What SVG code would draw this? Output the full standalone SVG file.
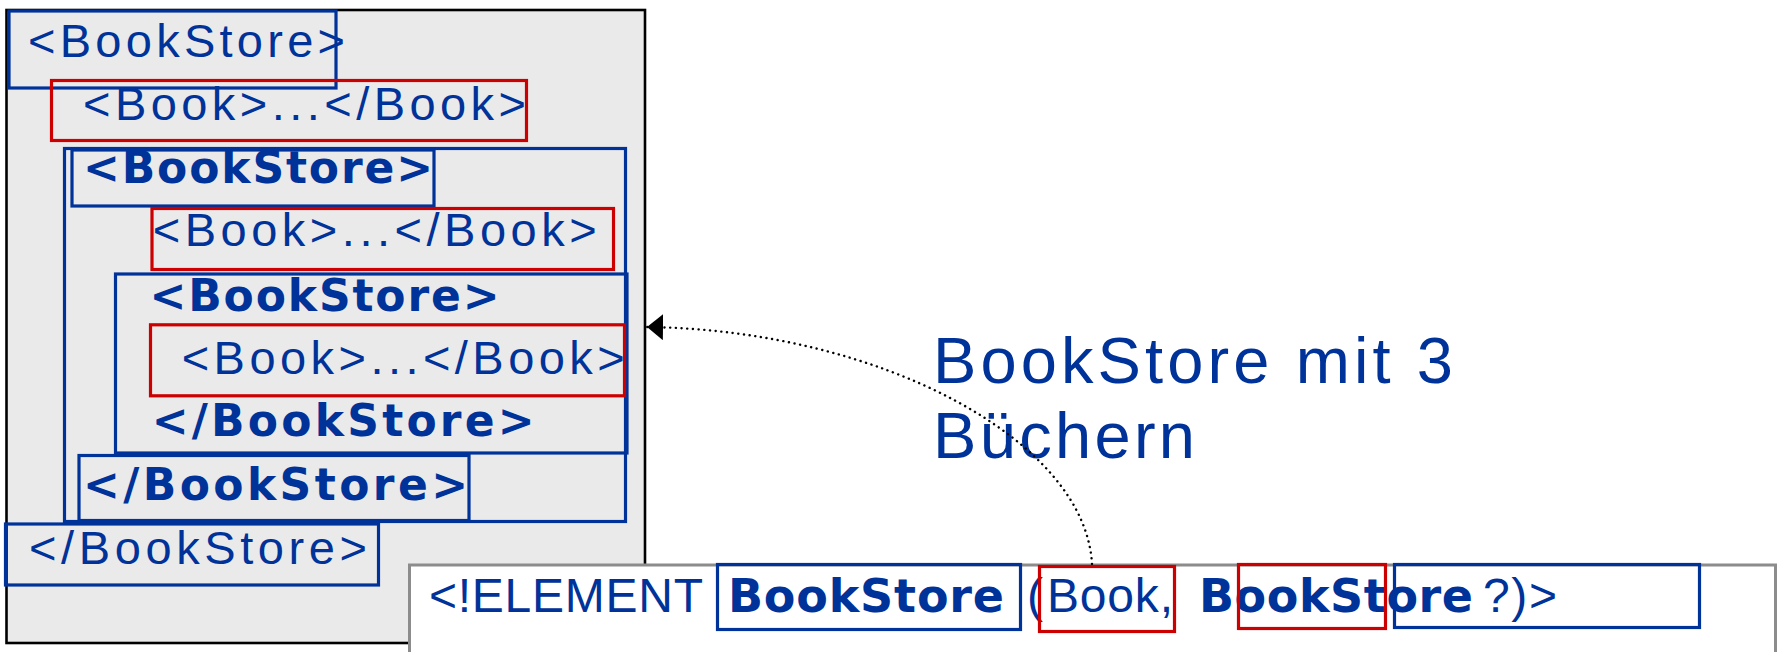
<svg xmlns="http://www.w3.org/2000/svg" width="1783" height="652" viewBox="0 0 1783 652">
<style>
text{font-family:"Liberation Sans",Arial,sans-serif;fill:#003399}
.n{font-size:47px}
.b{font-family:"DejaVu Sans",Verdana,sans-serif;font-size:44px;font-weight:bold}
.d{font-size:48px}
.db{font-family:"DejaVu Sans",Verdana,sans-serif;font-size:46px;font-weight:bold}
.big{font-size:65px}
.bl{fill:none;stroke:#003399;stroke-width:3.2}
.rd{fill:none;stroke:#CC0000;stroke-width:3.2}
.conn{fill:none;stroke:#000;stroke-width:2.4;stroke-dasharray:0.1 5.6;stroke-linecap:round}
</style>
<defs>
<marker id="ah" markerUnits="userSpaceOnUse" markerWidth="16" markerHeight="26" viewBox="0 0 16 26" refX="16" refY="13" orient="auto">
<path d="M0,0 L16,13 L0,26 z" fill="#000"/>
</marker>
</defs>
<g id="outer">
<rect x="6.5" y="10" width="638.5" height="633" fill="#EAEAEA" stroke="#000" stroke-width="2.6"/>
</g>
<g id="bookstore-outer-open">
<text class="n" x="28" y="57" textLength="317" lengthAdjust="spacing">&lt;BookStore&gt;</text>
<rect class="bl" x="9" y="11" width="327" height="77"/>
</g>
<g id="book-1">
<text class="n" x="83" y="120" textLength="443" lengthAdjust="spacing">&lt;Book&gt;...&lt;/Book&gt;</text>
<rect class="rd" x="51.5" y="80.5" width="475" height="60"/>
</g>
<g id="bookstore-mid">
<rect class="bl" x="64.5" y="148.5" width="561" height="373"/>
</g>
<g id="bookstore-mid-open">
<text class="b" x="83" y="183" textLength="350" lengthAdjust="spacing">&lt;BookStore&gt;</text>
<rect class="bl" x="72" y="150" width="362" height="56"/>
</g>
<g id="book-2">
<text class="n" x="152.7" y="246" textLength="444" lengthAdjust="spacing">&lt;Book&gt;...&lt;/Book&gt;</text>
<rect class="rd" x="152" y="208.5" width="461.5" height="61"/>
</g>
<g id="bookstore-inner">
<text class="b" x="149.5" y="310.5" textLength="350" lengthAdjust="spacing">&lt;BookStore&gt;</text>
<text class="b" x="151.7" y="436" textLength="383" lengthAdjust="spacing">&lt;/BookStore&gt;</text>
<rect class="bl" x="115.5" y="274" width="511.5" height="179"/>
</g>
<g id="book-3">
<text class="n" x="181.7" y="373.5" textLength="443" lengthAdjust="spacing">&lt;Book&gt;...&lt;/Book&gt;</text>
<rect class="rd" x="150.5" y="324.8" width="474" height="71"/>
</g>
<g id="bookstore-mid-close">
<text class="b" x="83" y="500" textLength="385" lengthAdjust="spacing">&lt;/BookStore&gt;</text>
<rect class="bl" x="79" y="455.5" width="390" height="65"/>
</g>
<g id="bookstore-outer-close">
<text class="n" x="29" y="563.5" textLength="338" lengthAdjust="spacing">&lt;/BookStore&gt;</text>
<rect class="bl" x="5.5" y="524" width="373" height="61"/>
</g>
<g id="label">
<text class="big" x="933" y="383" textLength="520" lengthAdjust="spacing">BookStore mit 3</text>
<text class="big" x="933" y="458" textLength="262" lengthAdjust="spacing">Büchern</text>
</g>
<g id="dtd">
<rect x="409.5" y="565" width="1366" height="100" fill="#fff" stroke="#8C8C8C" stroke-width="3"/>
<text class="d" x="429" y="612" textLength="274" lengthAdjust="spacing">&lt;!ELEMENT</text>
<text class="db" x="728" y="612" textLength="276" lengthAdjust="spacing">BookStore</text>
<text class="d" x="1027" y="612">(</text>
<text class="d" x="1047" y="612" textLength="126" lengthAdjust="spacing">Book,</text>
<text class="db" x="1199" y="612" textLength="274" lengthAdjust="spacing">BookStore</text>
<text class="d" x="1483" y="612" textLength="74" lengthAdjust="spacing">?)&gt;</text>
<rect class="bl" x="717.5" y="564.5" width="303" height="65"/>
<rect class="rd" x="1039.5" y="566.5" width="135" height="65"/>
<rect class="rd" x="1238.5" y="564.5" width="147" height="64"/>
<rect class="bl" x="1394.5" y="564.5" width="305" height="63"/>
</g>
<g id="connectors">
<path class="conn" d="M1092,564 C1085,440 880,330 647,327" marker-end="url(#ah)"/>
</g>
</svg>
